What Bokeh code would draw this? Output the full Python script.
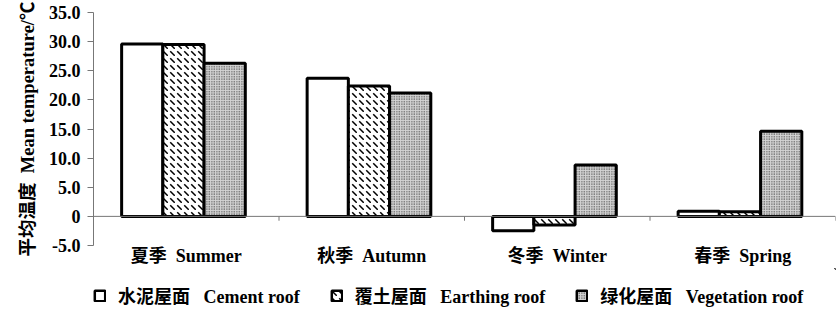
from bokeh.plotting import figure
from bokeh.layouts import column
from bokeh.models import Range1d, Span, Legend, LegendItem, FixedTicker, ColumnDataSource
from bokeh.embed import file_html
from bokeh.resources import INLINE

NB = "\u00a0"
categories = ["夏季" + NB * 2 + "Summer", "秋季" + NB * 2 + "Autumn", "冬季" + NB * 2 + "Winter", "春季" + NB * 2 + "Spring"]
series_names = ["水泥屋面" + NB * 3 + "Cement roof", "覆土屋面" + NB * 3 + "Earthing roof", "绿化屋面" + NB * 3 + "Vegetation roof"]
cement = [29.6, 23.7, -2.45, 0.9]
earthing = [29.5, 22.4, -1.5, 0.8]
vegetation = [26.3, 21.2, 8.8, 14.6]
y_ticks = [-5, 0, 5, 10, 15, 20, 25, 30, 35]

FONT = "'Liberation Serif', 'Noto Sans CJK SC'"

p = figure(width=840, height=268, output_backend="svg", toolbar_location=None,
           x_range=Range1d(0, len(categories)), y_range=Range1d(-5, 35),
           min_border_left=93, min_border_right=5, min_border_top=12, min_border_bottom=20)
p.grid.visible = False
p.outline_line_color = None
p.background_fill_color = "white"
p.border_fill_color = "white"

n = len(categories)
centers = [i + 0.5 for i in range(n)]
bw = 1.0 / 4.5
offsets = [-bw, 0.0, bw]

styles = [
    dict(fill_color="white"),
    dict(fill_color="white", hatch_pattern="`", hatch_color="black", hatch_scale=7, hatch_weight=1.5),
    dict(fill_color="#d4d4d4", hatch_pattern=".", hatch_color="#222222", hatch_scale=2.5, hatch_weight=1),
]
for vals, off, st in zip([cement, earthing, vegetation], offsets, styles):
    src = ColumnDataSource(dict(x=[c + off - 0.015 for c in centers], top=vals))
    p.vbar(x="x", top="top", bottom=0, width=bw, source=src,
           line_color="black", line_width=3, **st)

# zero line and category boundary ticks
p.add_layout(Span(location=0, dimension="width", line_color="#777777", line_width=1))
bounds = [i + 1 for i in range(n)]
p.segment(x0=bounds, x1=bounds, y0=[0] * n, y1=[-0.75] * n, line_color="#777777", line_width=1)

# y axis
ya = p.yaxis[0]
ya.ticker = FixedTicker(ticks=y_ticks)
ya.major_label_overrides = {t: ("0" if t == 0 else f"{t:.1f}") for t in y_ticks}
ya.axis_line_color = "#777777"
ya.major_tick_line_color = "#777777"
ya.major_tick_in = 0
ya.major_tick_out = 6
ya.minor_tick_line_color = None
ya.major_label_text_font = FONT
ya.major_label_text_font_size = "18px"
ya.major_label_text_font_style = "bold"
ya.major_label_text_color = "black"
ya.major_label_standoff = 7
ya.axis_label = "平均温度" + NB * 2 + "Mean temperature/℃"
ya.axis_label_text_font = FONT
ya.axis_label_text_font_size = "18.5px"
ya.axis_label_text_font_style = "bold"
ya.axis_label_text_color = "black"
ya.axis_label_standoff = 8

# x axis: category labels at bottom
xa = p.xaxis[0]
xa.ticker = FixedTicker(ticks=centers)
xa.major_label_overrides = {c: lab for c, lab in zip(centers, categories)}
xa.axis_line_color = None
xa.major_tick_line_color = None
xa.minor_tick_line_color = None
xa.major_tick_out = 0
xa.major_label_text_font = FONT
xa.major_label_text_font_size = "18px"
xa.major_label_text_font_style = "bold"
xa.major_label_text_color = "black"
xa.major_label_standoff = 0

# legend strip below the chart (swatch renderers sit outside the visible range)
lf = figure(width=840, height=48, output_backend="svg", toolbar_location=None,
            x_range=Range1d(0, 1), y_range=Range1d(0, 1),
            min_border_left=0, min_border_right=0, min_border_top=0, min_border_bottom=0)
lf.axis.visible = False
lf.grid.visible = False
lf.outline_line_color = None
lf.border_fill_color = "white"
leg_renderers = []
for st in styles:
    leg_renderers.append(lf.vbar(x=[5], top=[5], bottom=4, width=0.1,
                                 line_color="black", line_width=2.5, **st))
legend = Legend(items=[LegendItem(label=nm, renderers=[r]) for nm, r in zip(series_names, leg_renderers)],
                orientation="horizontal", location=(0, 8),
                glyph_width=13, glyph_height=13, label_standoff=12, spacing=30,
                label_text_font=FONT, label_text_font_size="18px", label_text_font_style="bold",
                label_text_color="black", border_line_color=None, background_fill_alpha=0,
                padding=0, margin=0)
lf.add_layout(legend, "center")

layout = column(p, lf, spacing=0)
open("out.html", "w").write(file_html(layout, INLINE))
